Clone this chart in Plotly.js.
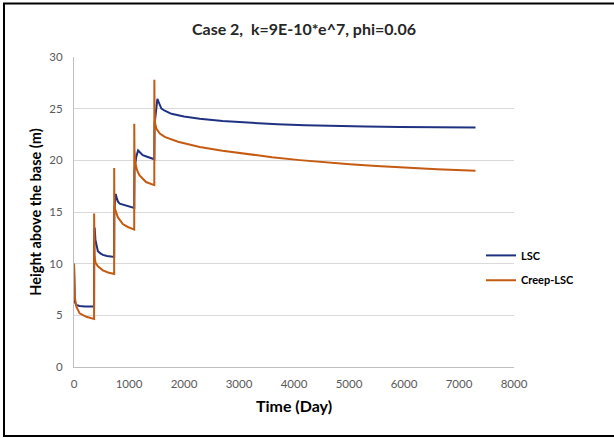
<!DOCTYPE html>
<html>
<head>
<meta charset="utf-8">
<script src="https://cdn.plot.ly/plotly-3.0.1.min.js"></script>
<style>html,body{margin:0;padding:0;background:#fff;}#chart{width:614px;height:438px;}</style>
</head>
<body>
<div id="chart"></div>
<script>
// LSC series (time in days, height in m)
const lscTime = [0, 5, 15, 40, 100, 200, 365, 368, 375, 390, 410, 434, 480, 525, 600, 676, 730, 733, 745, 758, 775, 800, 831, 900, 1013, 1095, 1100, 1130, 1165, 1200, 1250, 1330, 1400, 1460, 1465, 1490, 1516, 1550, 1589, 1650, 1771, 2000, 2285, 2700, 3195, 3700, 4200, 4705, 5300, 5922, 6600, 7300];
const lscHeight = [10, 7.0, 6.3, 6.0, 5.9, 5.85, 5.85, 12.5, 13.5, 12.3, 11.6, 11.2, 11.0, 10.85, 10.75, 10.68, 10.65, 15.0, 16.2, 16.75, 16.4, 16.0, 15.8, 15.7, 15.5, 15.4, 19.0, 20.3, 20.95, 20.75, 20.5, 20.35, 20.25, 20.1, 23.5, 25.0, 25.95, 25.5, 25.0, 24.8, 24.5, 24.25, 24.03, 23.8, 23.62, 23.49, 23.39, 23.32, 23.27, 23.23, 23.2, 23.18];

// Creep-LSC series
const creepTime = [0, 3, 13, 43, 103, 224, 333, 365, 366, 368, 375, 390, 434, 525, 620, 730, 731, 733, 745, 796, 887, 980, 1095, 1096, 1099, 1116, 1150, 1189, 1310, 1460, 1461, 1464, 1475, 1498, 1560, 1649, 1891, 2285, 2700, 3195, 3600, 4104, 4500, 5013, 5500, 5922, 6600, 7300];
const creepHeight = [10, 8.0, 6.8, 5.83, 5.19, 4.86, 4.7, 4.65, 14.86, 12.5, 10.7, 10.1, 9.75, 9.35, 9.15, 9.0, 19.25, 16.5, 15.3, 14.5, 13.83, 13.55, 13.3, 23.55, 21.0, 19.7, 19.0, 18.57, 17.9, 17.6, 27.8, 25.0, 23.6, 23.08, 22.6, 22.27, 21.8, 21.3, 20.93, 20.57, 20.3, 20.02, 19.83, 19.62, 19.45, 19.32, 19.14, 18.99];

const seriesNames = ["LSC", "Creep-LSC"];
const chartTitle = "Case 2,&nbsp; k=9E-10*e^7, phi=0.06";
const xTitle = "Time (Day)";
const yTitle = "Height above the base (m)";

const FONT = "Lato, 'Open Sans', sans-serif";

const traces = [
  {x: lscTime, y: lscHeight, name: seriesNames[0], type: "scatter", mode: "lines",
   line: {color: "#1f3282", width: 2}, legend: "legend"},
  {x: creepTime, y: creepHeight, name: seriesNames[1], type: "scatter", mode: "lines",
   line: {color: "#c55a11", width: 2}, legend: "legend2"}
];

const legendFont = {family: FONT, size: 11, color: "#000", weight: 700};

const layout = {
  width: 614, height: 438,
  margin: {l: 74, r: 100, t: 57, b: 71},
  paper_bgcolor: "#fff", plot_bgcolor: "#fff",
  font: {family: FONT, color: "#595959"},
  title: {text: chartTitle, font: {family: FONT, size: 16, color: "#262626", weight: 700},
          x: 0.495, xanchor: "center", y: 0.932, yanchor: "middle"},
  xaxis: {range: [0, 8000], dtick: 1000, tick0: 0, showgrid: false, zeroline: false,
          showline: true, linecolor: "#bfbfbf", linewidth: 1, ticks: "",
          ticklabelstandoff: 6,
          tickfont: {family: FONT, size: 11.5, color: "#595959"},
          title: {text: xTitle, font: {family: FONT, size: 16, color: "#000", weight: 700}, standoff: 12}},
  yaxis: {range: [0, 30], dtick: 5, tick0: 0, showgrid: true, gridcolor: "#d9d9d9", gridwidth: 1,
          zeroline: false, showline: true, linecolor: "#bfbfbf", linewidth: 1, ticks: "",
          ticklabelstandoff: 8,
          tickfont: {family: FONT, size: 11.5, color: "#595959"},
          title: {text: yTitle, font: {family: FONT, size: 14.5, color: "#000", weight: 700}, standoff: 4}},
  showlegend: true,
  legend: {x: 0.925, y: 0.36, xanchor: "left", yanchor: "middle", bgcolor: "rgba(0,0,0,0)",
           font: legendFont, itemwidth: 30},
  legend2: {x: 0.925, y: 0.28, xanchor: "left", yanchor: "middle", bgcolor: "rgba(0,0,0,0)",
           font: legendFont, itemwidth: 30},
  shapes: [
    {type: "rect", xref: "paper", yref: "paper",
     x0: (4 - 74) / 440, x1: (640 - 74) / 440, y0: (367 - 436) / 310, y1: (367 - 3.5) / 310,
     line: {color: "#000", width: 2}, fillcolor: "rgba(0,0,0,0)", layer: "below"}
  ]
};

Plotly.newPlot("chart", traces, layout, {displayModeBar: false, staticPlot: true});
</script>
</body>
</html>
